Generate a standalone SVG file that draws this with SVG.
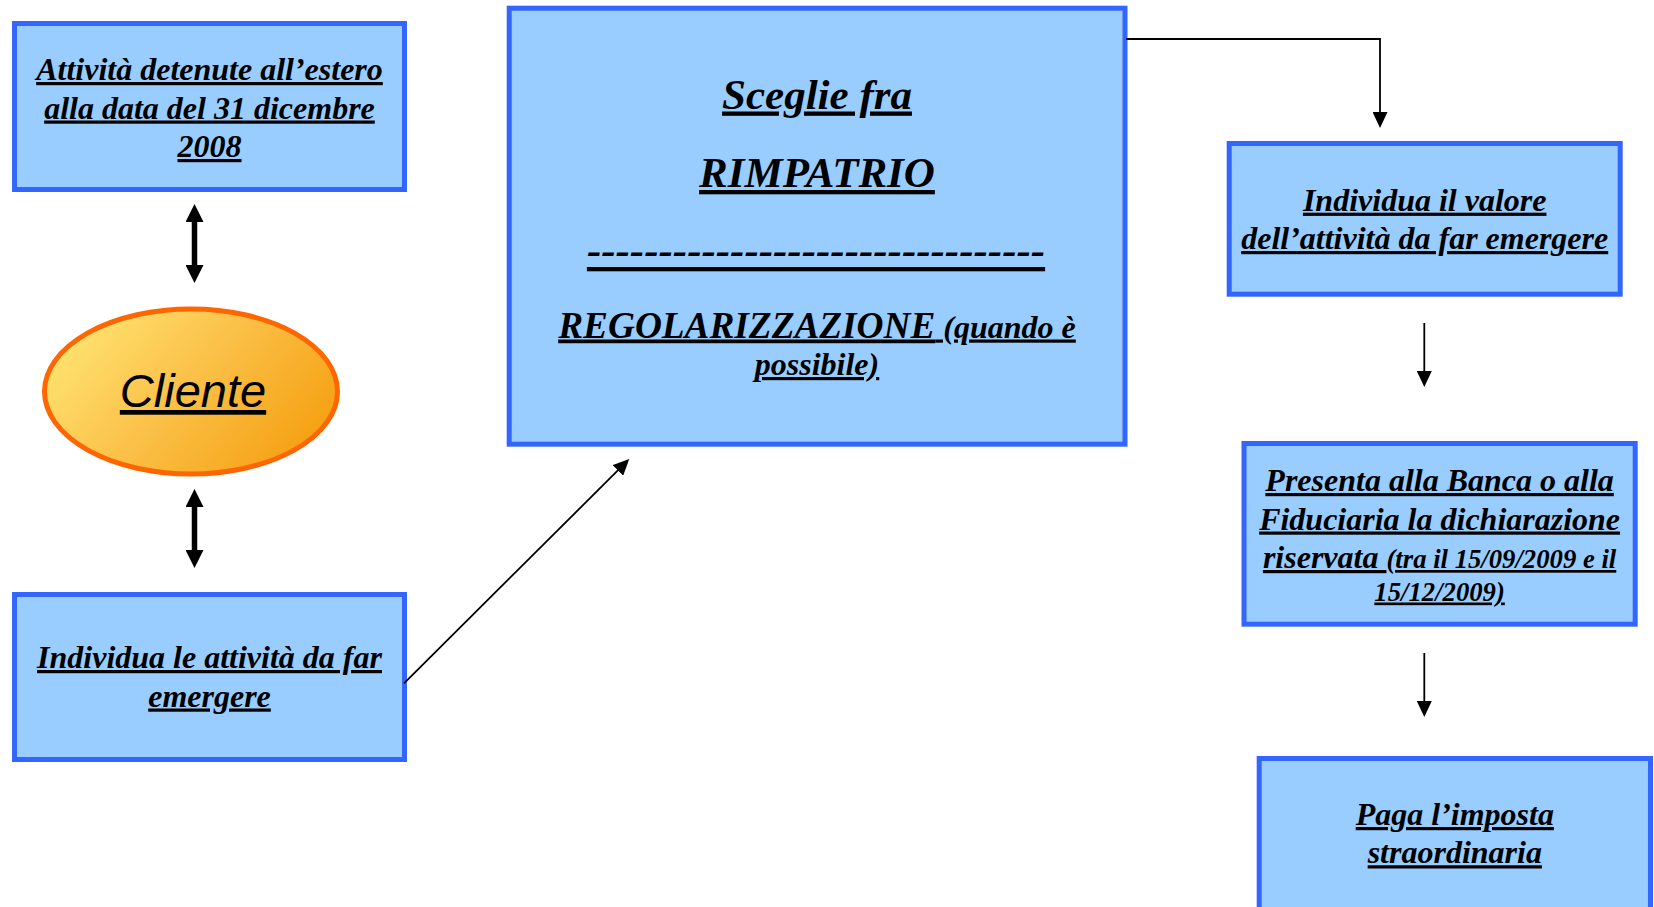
<svg xmlns="http://www.w3.org/2000/svg" width="1654" height="907" viewBox="0 0 1654 907">
  <style>
    .box { fill:#99CCFF; stroke:#3366FF; stroke-width:5; }
    .t { font-family:"Liberation Serif","Times New Roman",serif; font-weight:bold; font-style:italic; text-decoration:underline; text-anchor:middle; fill:#000; font-size:32px; }
    .cl { font-family:"Liberation Sans",Arial,sans-serif; font-style:italic; text-decoration:underline; text-anchor:middle; fill:#000; font-size:47px; }
    .conn { stroke:#000; fill:none; stroke-width:1.8; }
    .thick { stroke:#000; fill:none; stroke-width:5.5; }
  </style>
  <defs>
    <linearGradient id="gOrange" x1="0" y1="0.25" x2="1" y2="0.75">
      <stop offset="0" stop-color="#FFE472"/>
      <stop offset="0.45" stop-color="#FBC24A"/>
      <stop offset="1" stop-color="#F59E0E"/>
    </linearGradient>
    <marker id="head" markerUnits="userSpaceOnUse" viewBox="0 0 16 15" markerWidth="16" markerHeight="15" refX="1" refY="7.5" orient="auto">
      <path d="M0,0 L16,7.5 L0,15 z" fill="#000"/>
    </marker>
    <marker id="bighead" markerUnits="userSpaceOnUse" viewBox="0 0 18 18" markerWidth="18" markerHeight="18" refX="1" refY="9" orient="auto-start-reverse">
      <path d="M0,0 L18,9 L0,18 z" fill="#000"/>
    </marker>
  </defs>

  <g id="node-attivita-estero">
    <rect class="box" x="14.5" y="23.5" width="390" height="166"/>
    <text class="t" x="209.5" y="80">Attività detenute all’estero</text>
    <text class="t" x="209.5" y="118.5">alla data del 31 dicembre</text>
    <text class="t" x="209.5" y="157">2008</text>
  </g>

  <g id="node-cliente">
    <ellipse cx="191" cy="391.5" rx="146.5" ry="82.5" fill="url(#gOrange)" stroke="#FF6600" stroke-width="5"/>
    <text class="cl" x="193" y="407">Cliente</text>
  </g>

  <g id="node-individua-attivita">
    <rect class="box" x="14.5" y="594.5" width="390" height="165"/>
    <text class="t" x="209.5" y="668">Individua le attività da far</text>
    <text class="t" x="209.5" y="706.5">emergere</text>
  </g>

  <g id="node-sceglie">
    <rect class="box" x="509.2" y="8.2" width="615.8" height="436"/>
    <text class="t" x="817" y="108.5" style="font-size:43px">Sceglie fra</text>
    <text class="t" x="817" y="187" style="font-size:43px">RIMPATRIO</text>
    <text class="t" x="816" y="264" style="font-size:43px">--------------------------------</text>
    <text class="t" x="817" y="337.5"><tspan style="font-size:37.3px">REGOLARIZZAZIONE</tspan><tspan style="font-size:32px"> (quando è</tspan></text>
    <text class="t" x="817" y="375">possibile)</text>
  </g>

  <g id="node-valore">
    <rect class="box" x="1229.2" y="143.5" width="391" height="150.7"/>
    <text class="t" x="1424.7" y="210.7">Individua il valore</text>
    <text class="t" x="1424.7" y="249">dell’attività da far emergere</text>
  </g>

  <g id="node-presenta">
    <rect class="box" x="1244" y="443.5" width="391.2" height="180.7"/>
    <text class="t" x="1439.6" y="491">Presenta alla Banca o alla</text>
    <text class="t" x="1439.6" y="529.5">Fiduciaria la dichiarazione</text>
    <text class="t" x="1439.6" y="568">riservata <tspan style="font-size:26.7px">(tra il 15/09/2009 e il</tspan></text>
    <text class="t" x="1439.6" y="600.5" style="font-size:26.7px">15/12/2009)</text>
  </g>

  <g id="node-paga">
    <rect class="box" x="1259.2" y="758.5" width="391.3" height="156"/>
    <text class="t" x="1454.8" y="825">Paga l’imposta</text>
    <text class="t" x="1454.8" y="863.3">straordinaria</text>
  </g>

  <g id="connectors">
    <line class="thick" x1="194.5" y1="221" x2="194.5" y2="266" marker-start="url(#bighead)" marker-end="url(#bighead)"/>
    <line class="thick" x1="194.5" y1="506" x2="194.5" y2="551" marker-start="url(#bighead)" marker-end="url(#bighead)"/>
    <line class="conn" x1="404" y1="683.3" x2="618.6" y2="469.7" marker-end="url(#head)"/>
    <path class="conn" d="M1126,39 H1380 V113" marker-end="url(#head)"/>
    <line class="conn" x1="1424.3" y1="323" x2="1424.3" y2="372" marker-end="url(#head)"/>
    <line class="conn" x1="1424.3" y1="653" x2="1424.3" y2="702" marker-end="url(#head)"/>
  </g>
</svg>
